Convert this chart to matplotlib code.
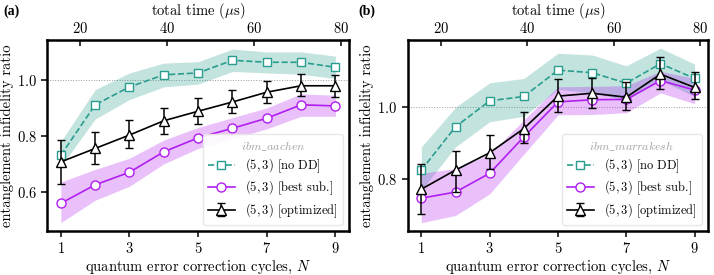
import numpy as np
import matplotlib
matplotlib.use("Agg")
import matplotlib.pyplot as plt

plt.rcParams['font.family'] = 'serif'
plt.rcParams['font.serif'] = ['cmr10', 'DejaVu Serif']
plt.rcParams['mathtext.fontset'] = 'cm'
plt.rcParams['axes.formatter.use_mathtext'] = True

cycles = np.arange(1, 10)

# panel (a): ibm_aachen
a_nodd = [0.731, 0.911, 0.975, 1.018, 1.025, 1.070, 1.063, 1.063, 1.045]
a_nodd_lo = [0.69, 0.86, 0.93, 0.975, 0.985, 1.03, 1.025, 1.02, 1.005]
a_nodd_hi = [0.78, 0.965, 1.025, 1.06, 1.065, 1.11, 1.10, 1.10, 1.085]
a_best = [0.559, 0.625, 0.670, 0.743, 0.793, 0.827, 0.863, 0.911, 0.907]
a_best_lo = [0.49, 0.57, 0.62, 0.70, 0.755, 0.79, 0.825, 0.87, 0.87]
a_best_hi = [0.635, 0.68, 0.72, 0.785, 0.83, 0.865, 0.90, 0.95, 0.945]
a_opt = [0.707, 0.755, 0.803, 0.854, 0.888, 0.921, 0.956, 0.979, 0.979]
a_opt_lo = [0.629, 0.700, 0.757, 0.808, 0.844, 0.880, 0.917, 0.942, 0.940]
a_opt_hi = [0.786, 0.815, 0.856, 0.900, 0.935, 0.964, 0.996, 1.020, 1.018]

# panel (b): ibm_marrakesh
b_nodd = [0.826, 0.946, 1.018, 1.030, 1.103, 1.096, 1.067, 1.121, 1.080]
b_nodd_lo = [0.77, 0.89, 0.96, 0.975, 1.05, 1.04, 1.02, 1.075, 1.03]
b_nodd_hi = [0.89, 1.00, 1.068, 1.08, 1.15, 1.145, 1.115, 1.164, 1.12]
b_best = [0.748, 0.765, 0.817, 0.918, 1.015, 1.021, 1.022, 1.074, 1.048]
b_best_lo = [0.68, 0.70, 0.76, 0.87, 0.979, 0.98, 0.985, 1.04, 1.01]
b_best_hi = [0.817, 0.83, 0.87, 0.965, 1.057, 1.058, 1.06, 1.10, 1.08]
b_opt = [0.773, 0.826, 0.874, 0.941, 1.031, 1.039, 1.028, 1.092, 1.055]
b_opt_lo = [0.704, 0.766, 0.828, 0.900, 0.988, 0.999, 0.993, 1.051, 1.022]
b_opt_hi = [0.844, 0.880, 0.923, 0.988, 1.079, 1.080, 1.071, 1.139, 1.099]

time_ticks = [20, 40, 60, 80]
dt, t0 = 7.9, 7.6

teal = '#2a9d8f'
purple = '#b01ff0'

fig = plt.figure(figsize=(7.14, 2.75), dpi=100)
ax_a = fig.add_axes([0.066, 0.16, 0.423, 0.695])
ax_b = fig.add_axes([0.571, 0.16, 0.421, 0.695])


def draw(ax, nodd, nodd_lo, nodd_hi, best, best_lo, best_hi,
         opt, opt_lo, opt_hi, device, ylim, yticks, label, lx):
    ax.axhline(1.0, color='#999999', lw=0.7, ls=':', zorder=0)
    ax.fill_between(cycles, nodd_lo, nodd_hi, color=teal, alpha=0.28, lw=0)
    ax.fill_between(cycles, best_lo, best_hi, color=purple, alpha=0.28, lw=0)
    ax.plot(cycles, nodd, ls='--', color=teal, marker='s', ms=6,
            mfc='white', mec=teal, lw=1.2, label=r'$(5,3)$ [no DD]')
    ax.plot(cycles, best, ls='-', color=purple, marker='o', ms=6.5,
            mfc='white', mec=purple, lw=1.2, label=r'$(5,3)$ [best sub.]')
    opt = np.array(opt)
    yerr = [opt - np.array(opt_lo), np.array(opt_hi) - opt]
    ax.errorbar(cycles, opt, yerr=yerr, color='black', marker='^', ms=6.5,
                mfc='white', mec='black', lw=1.2, capsize=3, elinewidth=1.1,
                label=r'$(5,3)$ [optimized]')
    ax.set_xlim(0.6, 9.4)
    ax.set_ylim(*ylim)
    ax.set_xticks([1, 3, 5, 7, 9])
    ax.set_yticks(yticks)
    ax.tick_params(labelsize=10.5, width=1.1, length=4)
    for s in ax.spines.values():
        s.set_linewidth(1.8)
    ax.set_xlabel(r'quantum error correction cycles, $N$', fontsize=10.5,
                  labelpad=2)
    ax.set_ylabel('entanglement infidelity ratio', fontsize=10.5, labelpad=2)
    leg = ax.legend(loc='lower right', fontsize=9,
                    title=r'$\mathit{' + device.replace('_', r'\_') + '}$',
                    title_fontsize=8.5, edgecolor='#e6e6e6', framealpha=0.9,
                    handlelength=2.2, borderpad=0.4, labelspacing=0.3)
    leg.get_title().set_color('#a0a0a0')
    sec = ax.secondary_xaxis('top', functions=(lambda n: dt * n + t0,
                                               lambda t: (t - t0) / dt))
    sec.set_xticks(time_ticks)
    sec.tick_params(direction='in', labelsize=10.5, width=1.1, length=4, pad=3)
    sec.set_xlabel(r'total time ($\mu$s)', fontsize=10.5, labelpad=4)
    ax.text(lx, 1.15, label, transform=ax.transAxes, fontsize=10,
            fontweight='bold', family='Liberation Serif', va='center')


draw(ax_a, a_nodd, a_nodd_lo, a_nodd_hi, a_best, a_best_lo, a_best_hi,
     a_opt, a_opt_lo, a_opt_hi, 'ibm_aachen', (0.46, 1.143), [0.6, 0.8, 1.0],
     '(a)', -0.145)
draw(ax_b, b_nodd, b_nodd_lo, b_nodd_hi, b_best, b_best_lo, b_best_hi,
     b_opt, b_opt_lo, b_opt_hi, 'ibm_marrakesh', (0.657, 1.187), [0.8, 1.0],
     '(b)', -0.165)

fig.savefig('out.png', dpi=100)
